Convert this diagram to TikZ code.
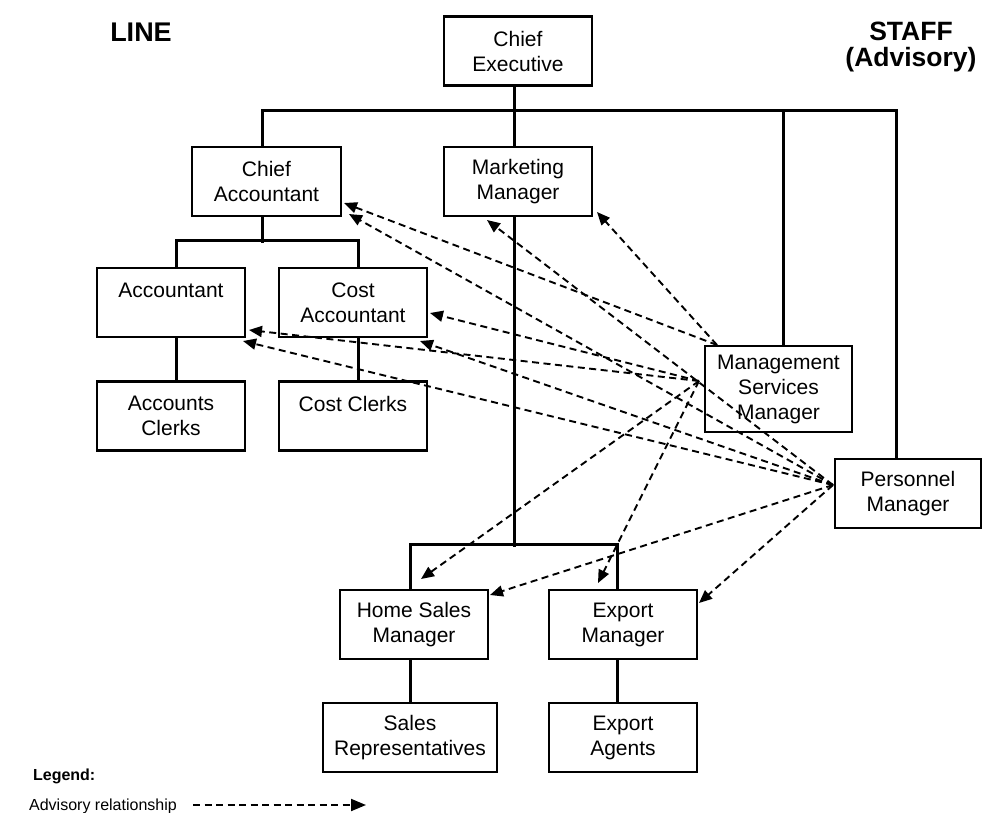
\documentclass[tikz,border=0pt]{standalone}
\usepackage{fontspec}
\setmainfont{Liberation Sans}
\usetikzlibrary{arrows.meta}
\begin{document}
\begin{tikzpicture}[x=1pt,y=-1pt,
  box/.style={draw, line width=2.6pt, rectangle, align=center, inner sep=0pt,
    font=\fontsize{21}{25}\selectfont, minimum height=69pt, minimum width=148pt},
  conn/.style={line width=3pt},
  adv/.style={line width=1.9pt, dash pattern=on 7pt off 4.5pt, -{Triangle[length=13pt,width=11pt]}},
  hdr/.style={font=\bfseries\fontsize{26.5}{26}\selectfont, align=center, inner sep=0pt},
]
\useasboundingbox (0,0) rectangle (983,812);

% boxes
\node[box] (ce) at (518,51) {Chief\\Executive};
\node[box, minimum width=149pt] (ca) at (266.5,181.5) {Chief\\Accountant};
\node[box] (mm) at (518,181.5) {Marketing\\Manager};
\node[box] (acc) at (171,302.5) {Accountant\\\mbox{}};
\node[box] (cac) at (353,302.5) {Cost\\Accountant};
\node[box] (accl) at (171,416) {Accounts\\Clerks};
\node[box] (cacl) at (353,416) {Cost Clerks\\\mbox{}};
\node[box, minimum width=147pt, minimum height=86pt] (msm) at (778.5,389) {Management\\Services\\Manager};
\node[box, minimum width=146pt] (pm) at (908,493.5) {Personnel\\Manager};
\node[box] (hsm) at (414,624.5) {Home Sales\\Manager};
\node[box] (em) at (623,624.5) {Export\\Manager};
\node[box, minimum width=174pt] (sr) at (410,737.5) {Sales\\Representatives};
\node[box] (ea) at (623,737.5) {Export\\Agents};

% headings
\node[hdr, font=\bfseries\fontsize{27}{30}\selectfont] (line) at (141,32) {LINE};
\node[hdr] (staff) at (911,47) {STAFF\\(Advisory)};

% line connectors
\draw[conn] ([xshift=-4pt]ce.south) -- ([xshift=-4pt]mm.north);
\draw[conn] ([xshift=-4.5pt]ca.north) -- ++(0,-35) -| ([xshift=-12pt]pm.north);
\draw[conn] ([xshift=4.5pt]msm.north) -- ++(0,-234);
\draw[conn] ([xshift=-4.5pt]ca.south) -- ++(0,26);
\draw[conn] ([xshift=5pt]acc.north) -- ++(0,-26) -| ([xshift=5pt]cac.north);
\draw[conn] ([xshift=5pt]acc.south) -- ([xshift=5pt]accl.north);
\draw[conn] ([xshift=5pt]cac.south) -- ([xshift=5pt]cacl.north);
\draw[conn] ([xshift=-4pt]mm.south) -- ++(0,330);
\draw[conn] ([xshift=-4pt]hsm.north) -- ++(0,-44) -| ([xshift=-6pt]em.north);
\draw[conn] ([xshift=-4pt]hsm.south) -- (sr.north);
\draw[conn] ([xshift=-6pt]em.south) -- ([xshift=-6pt]ea.north);

% advisory sources and targets
\coordinate (msmA) at (717,345);
\coordinate (msmB) at (699,381);
\coordinate (pmA) at (833,485);
\coordinate (tca1) at (344,203);
\coordinate (tca2) at (349,214);
\coordinate (tmm1) at (487,220);
\coordinate (tmm2) at (597,212);
\coordinate (tcac1) at (430,313);
\coordinate (tcac2) at (420,341);
\coordinate (tacc1) at (249,330);
\coordinate (tacc2) at (243,341);
\coordinate (thsm1) at (421,579);
\coordinate (thsm2) at (490,595);
\coordinate (tem1) at (598,583);
\coordinate (tem2) at (699,603);

\draw[adv] (msmA) -- (tca1);
\draw[adv] (msmA) -- (tmm2);
\draw[adv] (msmB) -- (tcac1);
\draw[adv] (msmB) -- (tacc1);
\draw[adv] (msmB) -- (thsm1);
\draw[adv] (msmB) -- (tem1);
\draw[adv] (pmA) -- (tca2);
\draw[adv] (pmA) -- (tmm1);
\draw[adv] (pmA) -- (tcac2);
\draw[adv] (pmA) -- (tacc2);
\draw[adv] (pmA) -- (thsm2);
\draw[adv] (pmA) -- (tem2);

% legend
\node[font=\bfseries\fontsize{16}{19}\selectfont, anchor=base east, inner sep=0pt] (leg) at (95.5,780) {Legend:};
\node[font=\fontsize{16}{19}\selectfont, anchor=base east, inner sep=0pt] (advtxt) at (177,810) {Advisory relationship};
\coordinate (legA) at (193,805);
\coordinate (legB) at (366,805);
\draw[adv, -{Triangle[length=15pt,width=12pt]}] (legA) -- (legB);
\end{tikzpicture}
\end{document}
